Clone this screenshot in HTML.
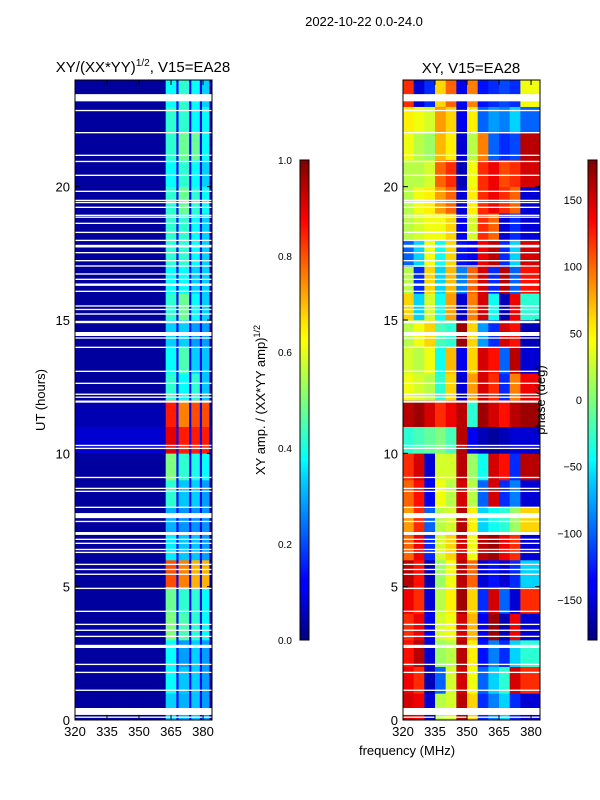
<!DOCTYPE html>
<html><head><meta charset="utf-8"><style>
html,body{margin:0;padding:0;background:#fff;}
svg{display:block;font-family:"Liberation Sans",sans-serif;}
</style></head><body>
<svg id="fig" width="600" height="800" viewBox="0 0 600 800">
<defs>
<linearGradient id="jet" x1="0" y1="1" x2="0" y2="0">
<stop offset="0" stop-color="#000080"/><stop offset="0.11" stop-color="#0000ff"/><stop offset="0.125" stop-color="#0000ff"/>
<stop offset="0.34" stop-color="#00d4ff"/><stop offset="0.375" stop-color="#00ffff"/><stop offset="0.5" stop-color="#7dff7a"/>
<stop offset="0.625" stop-color="#ffff00"/><stop offset="0.66" stop-color="#ffe600"/><stop offset="0.875" stop-color="#ff0000"/>
<stop offset="0.89" stop-color="#f00000"/><stop offset="1" stop-color="#800000"/></linearGradient>
</defs>
<text x="364" y="26" font-size="13" text-anchor="middle">2022-10-22 0.0-24.0</text>
<text x="143" y="72" font-size="15" text-anchor="middle">XY/(XX*YY)<tspan font-size="10" dy="-6">1/2</tspan><tspan dy="6">, V15=EA28</tspan></text>
<text x="471" y="73" font-size="15" text-anchor="middle">XY, V15=EA28</text>
<g id="left"></g>
<g id="right"></g>
<g id="axes"></g>
<rect x="300" y="160" width="9" height="480" fill="url(#jet)" stroke="#000" stroke-width="1"/>
<rect x="588" y="160" width="9" height="480" fill="url(#jet)" stroke="#000" stroke-width="1"/>
<text transform="translate(265,400) rotate(-90)" font-size="13" text-anchor="middle">XY amp. / (XX*YY amp)<tspan font-size="9" dy="-5">1/2</tspan></text>
<text transform="translate(545,400) rotate(-90)" font-size="13" text-anchor="middle">phase (deg)</text>
<text transform="translate(45,400) rotate(-90)" font-size="13" text-anchor="middle">UT (hours)</text>
<text x="407" y="755" font-size="13" text-anchor="middle">frequency (MHz)</text>
</svg>
<script>
const hourRows=[0,1,2,3,4,5,6,7,8,9,10,11,12,13,14,15,16,17,18,19,20,21,22,23];
const ampEdges=[320,362.5,367.5,368.5,373.5,374.5,378.5,379.5,383,384.2];
const ampBg=[0.03,0.03,0.03,0.03,0.03,0.03,0.03,0.03,0.03,0.03,0.08,0.05,0.03,0.03,0.03,0.03,0.03,0.03,0.03,0.03,0.03,0.03,0.03,0.03];
const ampBands=[[.33,.3,.32,.28],[.38,.32,.33,.28],[.38,.28,.33,.28],[.5,.45,.42,.38],[.48,.42,.42,.38],[.8,.75,.7,.7],[.36,.32,.32,.28],[.3,.27,.27,.27],[.42,.32,.33,.28],[.5,.42,.4,.38],[.9,.85,.85,.85],[.85,.75,.8,.8],[.42,.38,.42,.32],[.38,.45,.33,.32],[.33,.33,.28,.28],[.42,.48,.38,.33],[.38,.38,.33,.33],[.42,.42,.38,.33],[.42,.42,.38,.33],[.42,.48,.42,.38],[.38,.42,.38,.33],[.42,.48,.48,.38],[.42,.42,.38,.38],[.38,.42,.38,.33]];
const ampSeparator=[0.12];
const phaseEdges=[320,325,330,335,340,345,350,355,360,365,370,375,384.2];
const phase=[
[150,140,-150,20,30,160,60,-120,-90,-60,-120,-150],
[140,120,-160,-100,30,150,40,-100,-60,-30,150,120],
[130,160,-150,10,20,160,50,-130,-90,-120,-60,-30],
[120,140,-140,30,40,150,70,-140,170,-160,140,-150],
[140,120,-150,20,50,170,60,-120,150,-100,-150,120],
[160,130,-160,10,40,160,100,-150,-130,-150,-120,-60],
[100,140,-120,30,60,150,40,160,170,140,120,-150],
[80,120,-100,20,30,160,50,-60,-40,-30,10,60],
[100,130,-140,40,20,150,20,-100,150,-120,-90,-150],
[120,150,-150,30,30,160,10,-40,150,130,-120,160],
[-30,-20,-10,0,-20,160,-140,-160,-170,-160,-150,-150],
[160,170,150,120,140,160,-30,170,150,130,160,170],
[40,30,20,-30,60,-150,80,150,120,-120,90,140],
[30,20,40,-40,70,-140,60,150,130,-100,160,-150],
[20,40,60,-20,-30,170,60,-80,-120,150,130,-160],
[60,-60,30,-40,80,-150,90,150,-40,-160,140,-30],
[20,-120,60,-60,70,-90,100,150,-120,160,-100,130],
[-100,-60,40,-40,60,-130,-140,140,160,-120,-60,150],
[20,30,40,40,60,-140,30,120,100,-150,-120,-150],
[20,40,50,80,100,-150,50,120,140,120,100,-150],
[20,20,30,100,120,-160,40,120,140,110,120,150],
[40,20,10,70,50,-150,20,90,-100,-120,-110,160],
[50,40,30,80,60,-140,50,-100,-80,-90,-60,-100],
[120,-150,-120,60,100,-140,90,-130,-120,-110,-120,40]];
const gapStart=[23.2,22.83,22.0,21.15,20.92,20.4,19.8,19.46,19.38,19.2,18.9,18.83,18.6,18.26,17.96,17.72,17.5,17.2,17.0,16.7,16.5,16.28,16.05,15.5,15.37,15.2,14.88,14.4,14.3,13.95,13.05,12.6,12.19,12.08,11.9,10.27,10.16,9.07,8.66,8.55,7.95,7.57,7.42,6.94,6.75,6.6,6.37,6.26,5.81,5.62,5.44,4.91,4.05,3.56,3.34,3.11,2.7,2.06,1.76,1.09,0.19,0.08];
const gapLen=[0.27,0.05,0.05,0.05,0.05,0.05,0.05,0.05,0.05,0.05,0.05,0.05,0.05,0.05,0.05,0.1,0.05,0.05,0.05,0.05,0.05,0.09,0.05,0.05,0.05,0.05,0.09,0.15,0.05,0.05,0.05,0.05,0.05,0.05,0.08,0.05,0.05,0.05,0.05,0.05,0.05,0.19,0.05,0.11,0.05,0.05,0.05,0.05,0.05,0.05,0.05,0.05,0.05,0.05,0.05,0.05,0.12,0.05,0.05,0.05,0.26,0.05];
const xTicks=[320,335,350,365,380];
const yTicks=[0,5,10,15,20];
const ampTicks=[0.0,0.2,0.4,0.6,0.8,1.0];
const phaseTicks=[-150,-100,-50,0,50,100,150];

const NS="http://www.w3.org/2000/svg";
function jet(v){v=Math.max(0,Math.min(1,v));
 const r=Math.max(0,Math.min(1,Math.min(4*v-1.5,-4*v+4.5)));
 const g=Math.max(0,Math.min(1,Math.min(4*v-0.5,-4*v+3.5)));
 const b=Math.max(0,Math.min(1,Math.min(4*v+0.5,-4*v+2.5)));
 return `rgb(${Math.round(r*255)},${Math.round(g*255)},${Math.round(b*255)})`;}
function mk(tag,attrs,parent){const e=document.createElementNS(NS,tag);for(const k in attrs)e.setAttribute(k,attrs[k]);parent.appendChild(e);return e;}
const Y0=720,Y1=80;
const yScale=h=>Y0-(h/24)*(Y0-Y1);
function xScaleFor(x0){return f=>x0+(f-320)*(137/64.2);}
const xL=xScaleFor(75),xR=xScaleFor(403);
const gL=document.getElementById('left'),gR=document.getElementById('right'),gA=document.getElementById('axes');
hourRows.forEach((h,i)=>{
 const y=yScale(h+1),hh=yScale(h)-yScale(h+1);
 const vals=[ampBg[i],ampBands[i][0],ampSeparator[0],ampBands[i][1],ampSeparator[0],ampBands[i][2],ampSeparator[0],ampBands[i][3],ampBg[i]];
 vals.forEach((v,j)=>{
  const r=mk('rect',{x:xL(ampEdges[j]),y:y,width:xL(ampEdges[j+1])-xL(ampEdges[j])+0.3,height:hh+0.3,fill:jet(v)},gL);
  
  
 });
 phase[i].forEach((p,j)=>{
  const r=mk('rect',{x:xR(phaseEdges[j]),y:y,width:xR(phaseEdges[j+1])-xR(phaseEdges[j])+0.3,height:hh+0.3,fill:jet((p+180)/360)},gR);
  
  
 });
});
[[gL,75],[gR,403]].forEach(([g,x0])=>{
 gapStart.forEach((s,k)=>{
  const r=mk('rect',{x:x0,y:yScale(s+gapLen[k]),width:137,height:Math.max(1.2,yScale(s)-yScale(s+gapLen[k])),fill:'#fff'},g);
  
  
 });
});
[[75,xL],[403,xR]].forEach(([x0,xs],pi)=>{
 const f=mk('rect',{x:x0,y:80,width:137,height:640,fill:'none',stroke:'#000','stroke-width':1},gA);
 
 
 xTicks.forEach(t=>{
  const x=xs(t);
  mk('line',{x1:x,x2:x,y1:720,y2:715,stroke:'#000'},gA);
  mk('line',{x1:x,x2:x,y1:80,y2:85,stroke:'#000'},gA);
  const tx=mk('text',{x:x,y:736,'font-size':13,'text-anchor':'middle'},gA);tx.textContent=t;
  
  
 });
 yTicks.forEach(t=>{
  const y=yScale(t);
  mk('line',{x1:x0,x2:x0+5,y1:y,y2:y,stroke:'#000'},gA);
  mk('line',{x1:x0+137,x2:x0+132,y1:y,y2:y,stroke:'#000'},gA);
  const tx=mk('text',{x:x0-5,y:y+5,'font-size':13,'text-anchor':'end'},gA);tx.textContent=t;
  
  
 });
});
ampTicks.forEach(t=>{
 const y=640-t*480;
 mk('line',{x1:300,x2:303,y1:y,y2:y,stroke:'#000'},gA);
 mk('line',{x1:309,x2:306,y1:y,y2:y,stroke:'#000'},gA);
 const tx=mk('text',{x:278,y:y+4,'font-size':10},gA);tx.textContent=t.toFixed(1);
 
 
});
phaseTicks.forEach(t=>{
 const y=640-(t+180)/360*480;
 mk('line',{x1:588,x2:591,y1:y,y2:y,stroke:'#000'},gA);
 mk('line',{x1:597,x2:594,y1:y,y2:y,stroke:'#000'},gA);
 const tx=mk('text',{x:582,y:y+4,'font-size':11,'text-anchor':'end'},gA);tx.textContent=t<0?'\u2212'+(-t):t;
 
 
});
</script>
</body></html>
